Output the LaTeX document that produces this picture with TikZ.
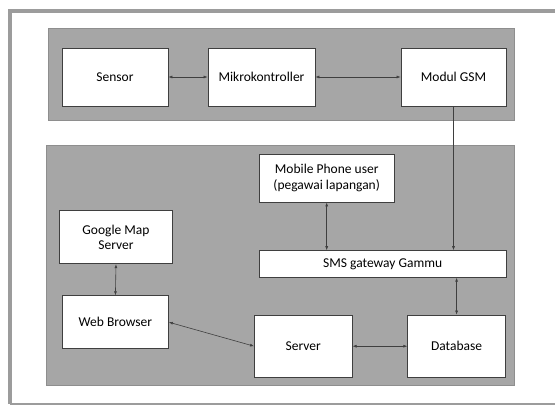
\documentclass[tikz,border=0pt]{standalone}
\usepackage{fontspec}
\setmainfont{Carlito}
\usepackage{xcolor}
\usetikzlibrary{arrows.meta}

\definecolor{panelgray}{HTML}{A6A6A6}
\definecolor{paneledge}{HTML}{8E8E8E}
\definecolor{boxedge}{HTML}{3F3F3F}
\definecolor{framegray}{HTML}{9C9C9C}

\begin{document}
\begin{tikzpicture}[x=1pt, y=-1pt, >={Latex[length=4pt,width=3pt]},
    block/.style={draw=boxedge, fill=white, line width=0.8pt, inner sep=0pt,
        align=center, font=\fontsize{13.5}{15.5}\selectfont},
    panel/.style={draw=paneledge, fill=panelgray, line width=1pt},
    link/.style={draw=boxedge, line width=0.6pt}]
    \useasboundingbox (0,0) rectangle (555,406);

    % Outer frame
    \draw[framegray, line width=3.5pt] (10,404) -- (10,11) -- (560,11);
    \draw[framegray, line width=1.2pt] (10,404) -- (560,404);

    % Upper panel (hardware)
    \draw[panel] (48.5,29) rectangle (514,121);
    \node[block, minimum width=106pt, minimum height=58pt] (sensor) at (115,77) {Sensor};
    \node[block, minimum width=107pt, minimum height=58pt] (mikro) at (261.5,77) {Mikrokontroller};
    \node[block, minimum width=105pt, minimum height=58pt] (gsm) at (453.5,77) {Modul GSM};

    % Lower panel (server side)
    \draw[panel] (46.7,146) rectangle (514,386);
    \node[block, minimum width=134.5pt, minimum height=48pt] (mobile) at (326.7,178) {Mobile Phone user\\(pegawai lapangan)};
    \node[block, minimum width=113pt, minimum height=53pt] (google) at (116,237.3) {Google Map\\Server};
    \node[block, minimum width=246.5pt, minimum height=26.7pt] (sms) at (382.7,264) {SMS gateway Gammu};
    \node[block, minimum width=106pt, minimum height=53pt] (web) at (115.4,322.2) {Web Browser};
    \node[block, minimum width=97.7pt, minimum height=62.3pt] (server) at (303.3,346.2) {Server};
    \node[block, minimum width=97.7pt, minimum height=62.3pt] (db) at (456.6,346.2) {Database};

    % Connections
    \draw[link, <->] (sensor.east) -- (mikro.west);
    \draw[link, <->] (mikro.east) -- (gsm.west);
    \draw[link, ->] (gsm.south) -- (gsm.south |- sms.north);
    \draw[link, <->] (mobile.south) -- (mobile.south |- sms.north);
    \draw[link, <->] (google.south) -- (web.north);
    \draw[link, <->] (web.east) -- (server.west);
    \draw[link, <->] (server.east) -- (db.west);
    \draw[link, <->] (db.north) -- (db.north |- sms.south);

\end{tikzpicture}
\end{document}
